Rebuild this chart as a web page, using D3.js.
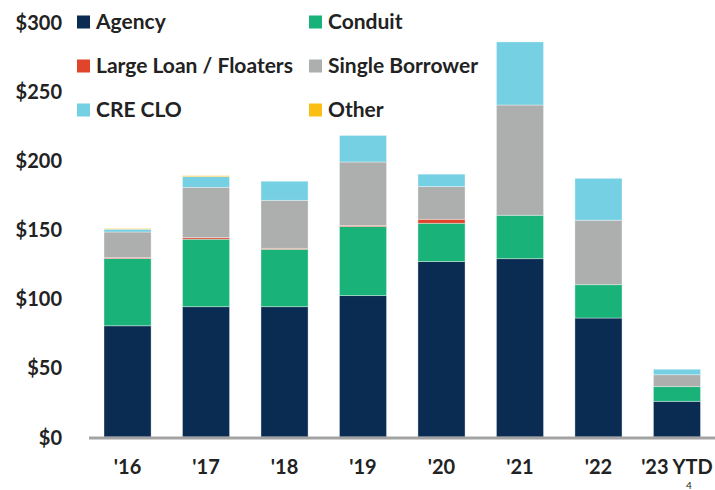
<!DOCTYPE html>
<html><head><meta charset="utf-8">
<script src="https://cdn.jsdelivr.net/npm/d3@7"></script>
<style>body{margin:0;background:#fff}svg{display:block}text{font-family:Lato,"Open Sans",sans-serif;font-weight:700;fill:#222}</style>
</head><body>
<svg id="c" width="715" height="490"></svg>
<script>
const categories = ["'16","'17","'18","'19","'20","'21","'22","'23 YTD"];
const agency      = [80.4, 94.2, 94.2, 102.2, 126.8, 128.9, 86.0, 25.8];
const conduit     = [48.6, 48.8, 41.5, 49.9, 27.7, 31.4, 24.1, 10.6];
const largeLoan   = [0.6, 1.1, 0.7, 0.7, 2.9, 0, 0, 0];
const singleBorr  = [18.6, 36.4, 34.7, 46.0, 23.6, 79.7, 46.6, 8.6];
const creClo      = [2.0, 7.7, 13.8, 19.2, 9.0, 45.6, 30.3, 4.0];
const other       = [0.5, 0.7, 0, 0, 0, 0, 0, 0];
const seriesNames = ["Agency","Conduit","Large Loan / Floaters","Single Borrower","CRE CLO","Other"];
const seriesColors = ["#0b2c52","#19b37a","#e0452b","#adafaf","#76d0e3","#fbbf14"];
const yTicks = [0,50,100,150,200,250,300];

const seriesVals = [agency, conduit, largeLoan, singleBorr, creClo, other];
const rows = categories.map((c,i)=>{const r={cat:c}; seriesNames.forEach((s,k)=>r[s]=seriesVals[k][i]); return r;});
const stacked = d3.stack().keys(seriesNames)(rows);

const svg = d3.select("#c");
const x = d3.scaleBand().domain(categories).range([88.3,716.2]).paddingInner(0.4).paddingOuter(0.2);
const y = d3.scaleLinear().domain([0,300]).range([437,22]);
const color = d3.scaleOrdinal().domain(seriesNames).range(seriesColors);

// bars
svg.append("g").selectAll("g").data(stacked).join("g").attr("fill",d=>color(d.key))
  .selectAll("rect").data(d=>d.filter(p=>p[1]-p[0]>0)).join("rect")
  .attr("x",d=>x(d.data.cat)).attr("width",x.bandwidth())
  .attr("y",d=>y(d[1])).attr("height",d=>y(d[0])-y(d[1]))
  .attr("stroke","#ffffff").attr("stroke-opacity",0.45).attr("stroke-width",0.8);

// y axis labels
const yAxis = d3.axisLeft(y).tickValues(yTicks).tickFormat(d=>"$"+d).tickSize(0).tickPadding(0);
const gy = svg.append("g").attr("transform","translate(62,0)").call(yAxis);
gy.select(".domain").remove();
gy.selectAll("text").style("font-size","20px").attr("dy","0.35em").attr("fill","#222");

// x axis
const xAxis = d3.axisBottom(x).tickSize(0).tickPadding(0);
const gx = svg.append("g").attr("transform","translate(0,438)").call(xAxis);
gx.select(".domain").remove();
gx.selectAll("text").style("font-size","20px").attr("dy","0").attr("y",36).attr("fill","#222");
svg.append("line").attr("x1",89).attr("x2",715).attr("y1",438).attr("y2",438)
  .attr("stroke","#a3a3a3").attr("stroke-width",3);

// legend
const legPos = [[77,22],[309,22],[77,66],[309,66],[77,110],[309,110]];
const lg = svg.append("g").selectAll("g").data(seriesNames).join("g")
  .attr("transform",(d,i)=>`translate(${legPos[i][0]},${legPos[i][1]})`);
lg.append("rect").attr("x",0).attr("y",-6.5).attr("width",13).attr("height",13).attr("fill",d=>color(d));
lg.append("text").attr("x",19).attr("y",0).attr("dy","0.35em").style("font-size","21px").text(d=>d);

svg.append("text").attr("x",689).attr("y",489).attr("text-anchor","middle")
  .style("font-size","10px").style("font-weight","400").attr("fill","#555").text("4");
</script>
</body></html>
